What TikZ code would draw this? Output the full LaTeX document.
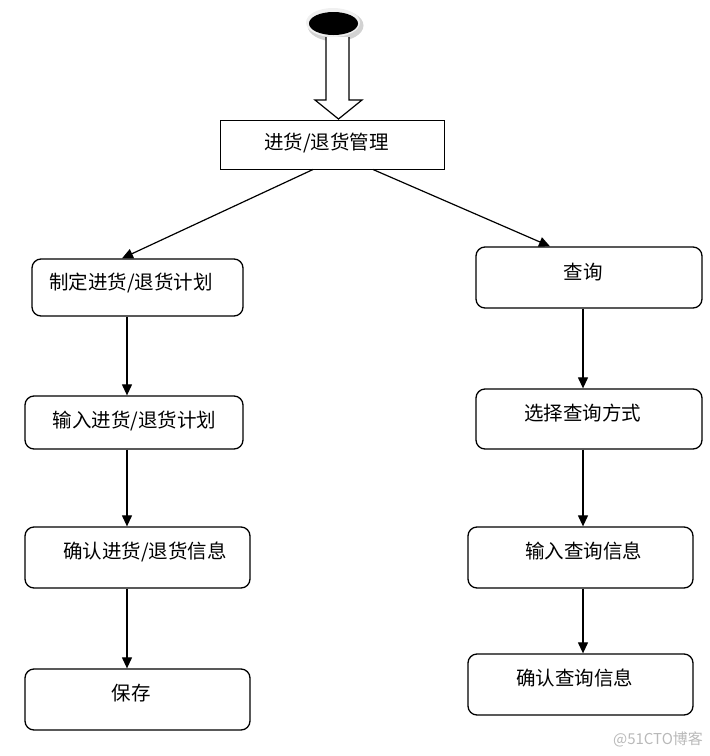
\documentclass[tikz,border=0pt]{standalone}
\usepackage{fontspec}
\setmainfont{Noto Sans CJK SC}
\usetikzlibrary{arrows.meta,shapes.geometric}
\tikzset{
  box/.style={draw=black,line width=1.3pt,rounded corners=9pt,inner sep=0pt},
  sbox/.style={draw=black,line width=1pt,inner sep=0pt},
  lbl/.style={inner sep=0pt,font=\fontsize{19.5}{23}\selectfont},
  arr/.style={line width=1.2pt,-{Triangle[length=11pt,width=10pt]}},
}
\begin{document}
\begin{tikzpicture}[x=1pt,y=-1pt]
\useasboundingbox (0,0) rectangle (710,756);
% start
\fill[gray!35] (335.5,25.5) ellipse [x radius=28,y radius=16];
\fill[gray!12] (333,22.5) ellipse [x radius=27,y radius=14.5];
\node[ellipse,fill=black,minimum width=49pt,minimum height=23pt,inner sep=0pt] (start) at (333.5,23.5) {};
% top box
\node[sbox,minimum width=224pt,minimum height=49pt] (top) at (332,144.5) {};
% hollow arrow
\draw[line width=1.2pt,fill=white] (326,37) -- (326,100) -- (315,100) -- (338.5,119) -- (362,100) -- (349,100) -- (349,37);
% left boxes
\node[box,minimum width=211pt,minimum height=57pt] (l1) at (137.5,287.5) {};
\node[box,minimum width=218pt,minimum height=53pt] (l2) at (134,422.5) {};
\node[box,minimum width=225pt,minimum height=61pt] (l3) at (137.5,557.5) {};
\node[box,minimum width=225pt,minimum height=61pt] (l4) at (137.5,699.5) {};
% right boxes
\node[box,minimum width=226pt,minimum height=61pt] (r1) at (589,277.5) {};
\node[box,minimum width=226pt,minimum height=60pt] (r2) at (589,419) {};
\node[box,minimum width=225pt,minimum height=61pt] (r3) at (580.5,557.5) {};
\node[box,minimum width=225pt,minimum height=61pt] (r4) at (580.5,684.5) {};
% labels
\node[lbl] (ttop) at (326.5,143) {进货/退货管理};
\node[lbl] (tl1) at (131,283) {制定进货/退货计划};
\node[lbl] (tl2) at (134.5,421) {输入进货/退货计划};
\node[lbl] (tl3) at (145,552) {确认进货/退货信息};
\node[lbl] (tl4) at (131,693) {保存};
\node[lbl] (tr1) at (583,272) {查询};
\node[lbl] (tr2) at (582.5,413) {选择查询方式};
\node[lbl] (tr3) at (583.5,551) {输入查询信息};
\node[lbl] (tr4) at (574.5,678) {确认查询信息};
\node[inner sep=0pt,text=gray!55,font=\fontsize{15}{17}\selectfont] (wm) at (658,739) {@51CTO博客};
% connectors
\coordinate (ta) at (313,169.5);
\coordinate (tb) at (373,169.5);
\coordinate (la) at (122,0);
\coordinate (ra) at (550,0);
\coordinate (lx) at (127,0);
\coordinate (rx) at (583,0);
\draw[arr] (ta) -- (l1.north -| la);
\draw[arr] (tb) -- (r1.north -| ra);
\draw[arr] (l1.south -| lx) -- (l2.north -| lx);
\draw[arr] (l2.south -| lx) -- (l3.north -| lx);
\draw[arr] (l3.south -| lx) -- (l4.north -| lx);
\draw[arr] (r1.south -| rx) -- (r2.north -| rx);
\draw[arr] (r2.south -| rx) -- (r3.north -| rx);
\draw[arr] (r3.south -| rx) -- (r4.north -| rx);
\end{tikzpicture}
\end{document}
